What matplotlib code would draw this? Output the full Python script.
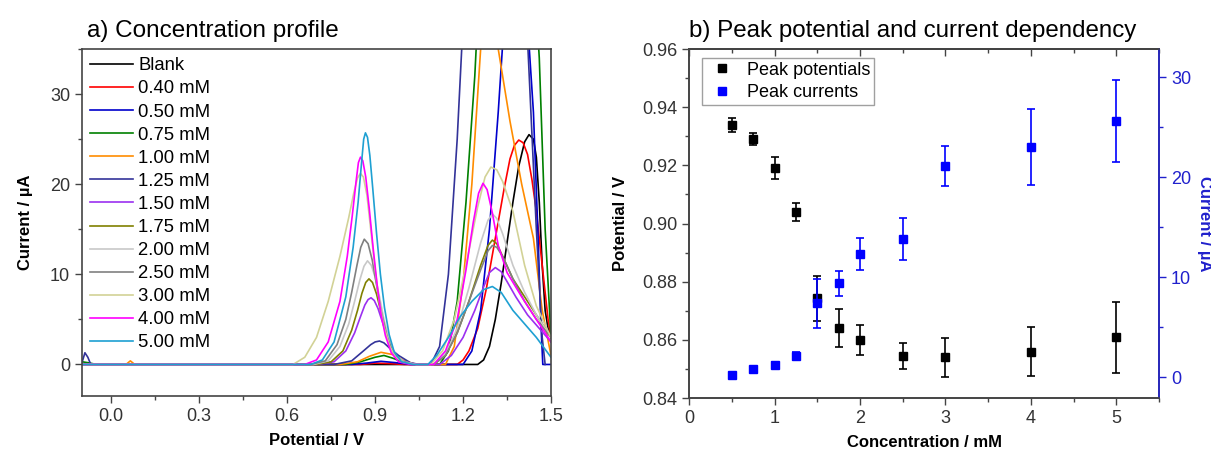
import numpy as np
import matplotlib
matplotlib.use("Agg")
import matplotlib.pyplot as plt
from matplotlib.ticker import MultipleLocator
from matplotlib.lines import Line2D

plt.rcParams['font.family'] = ['Liberation Sans', 'DejaVu Sans']

# ---- panel a: voltammograms (potential V, current uA) ----
labels = ["Blank", "0.40 mM", "0.50 mM", "0.75 mM", "1.00 mM", "1.25 mM", "1.50 mM",
          "1.75 mM", "2.00 mM", "2.50 mM", "3.00 mM", "4.00 mM", "5.00 mM"]
colors = ["#000000", "#FF0000", "#0000CC", "#008000", "#FF8C00", "#333399", "#9B30F0",
          "#808000", "#C8C8C8", "#808080", "#D2D296", "#FF00FF", "#1EA0D2"]

blank = [(-0.1, 0), (1.25, 0), (1.27, 0.5), (1.29, 2), (1.31, 5), (1.33, 9), (1.35, 13.5),
         (1.37, 18), (1.39, 22), (1.41, 24.7), (1.425, 25.5), (1.44, 25), (1.45, 23),
         (1.46, 18), (1.47, 11), (1.48, 6), (1.49, 4), (1.5, 3)]
c040 = [(-0.1, 0), (0.85, 0), (0.9, 0.15), (0.95, 0.1), (1.0, 0), (1.18, 0), (1.2, 0.5),
        (1.22, 1.5), (1.25, 4), (1.28, 8.5), (1.31, 14), (1.34, 19.5), (1.36, 22.8),
        (1.375, 24.3), (1.39, 24.9), (1.405, 24.6), (1.42, 23.3), (1.435, 20.5), (1.45, 17),
        (1.47, 11), (1.49, 5), (1.5, 3)]
c050 = [(-0.1, 0), (0.82, 0), (0.87, 0.15), (0.92, 0.35), (0.97, 0.2), (1.02, 0), (1.2, 0),
        (1.23, 1.5), (1.26, 6), (1.29, 15), (1.32, 28), (1.34, 38), (1.38, 60), (1.42, 38),
        (1.44, 28), (1.455, 15), (1.465, 5), (1.472, 0), (1.5, 0)]
c075 = [(-0.1, 0.3), (-0.08, 0.2), (-0.05, 0), (0.8, 0), (0.85, 0.3), (0.9, 0.8), (0.93, 1.0),
        (0.96, 0.7), (1.0, 0.2), (1.04, 0), (1.12, 0), (1.15, 1.5), (1.18, 7), (1.21, 18),
        (1.24, 32), (1.26, 45), (1.35, 70), (1.44, 45), (1.46, 34), (1.48, 15), (1.5, 3)]
c100 = [(-0.1, 0), (0.05, 0), (0.065, 0.4), (0.08, 0), (0.78, 0), (0.84, 0.3), (0.88, 0.9),
        (0.92, 1.35), (0.96, 1.1), (1.0, 0.4), (1.04, 0), (1.14, 0), (1.17, 2), (1.2, 9),
        (1.23, 20), (1.26, 35), (1.29, 45), (1.32, 35), (1.36, 27), (1.4, 20), (1.44, 14),
        (1.47, 6), (1.5, 1)]
c125 = [(-0.1, 0.2), (-0.09, 1.3), (-0.08, 0.8), (-0.07, 0), (0.76, 0), (0.82, 0.4),
        (0.86, 1.5), (0.885, 2.2), (0.9, 2.5), (0.915, 2.6), (0.93, 2.4), (0.95, 1.8),
        (0.98, 1), (1.02, 0.2), (1.05, 0), (1.09, 0), (1.12, 2), (1.15, 10), (1.18, 25),
        (1.2, 38), (1.3, 80), (1.4, 50), (1.42, 36), (1.45, 15), (1.47, 3), (1.48, 0)]
c150 = [(-0.1, 0), (0.7, 0), (0.76, 0.3), (0.8, 1.5), (0.83, 3.5), (0.85, 5.3), (0.865, 6.6),
        (0.876, 7.2), (0.886, 7.4), (0.897, 7.1), (0.91, 6.2), (0.925, 4.7), (0.94, 3.2),
        (0.96, 1.6), (0.98, 0.7), (1.0, 0.3), (1.04, 0), (1.12, 0), (1.16, 1), (1.2, 3),
        (1.24, 6), (1.27, 8.6), (1.29, 10.2), (1.31, 10.75), (1.33, 10.3), (1.35, 9.2),
        (1.38, 7.5), (1.42, 5.5), (1.46, 4), (1.5, 2.5)]
c175 = [(-0.1, 0), (0.7, 0), (0.75, 0.3), (0.79, 1.5), (0.82, 3.8), (0.84, 6), (0.855, 7.9),
        (0.868, 9.1), (0.879, 9.5), (0.891, 9.1), (0.905, 7.8), (0.92, 5.8), (0.94, 3.3),
        (0.96, 1.6), (0.98, 0.6), (1.0, 0.2), (1.04, 0), (1.1, 0), (1.14, 1), (1.18, 3.5),
        (1.22, 7), (1.26, 11), (1.285, 13.2), (1.3, 13.8), (1.315, 13.4), (1.335, 12),
        (1.37, 9.5), (1.41, 7.5), (1.45, 5.5), (1.5, 3)]
c200 = [(-0.1, 0), (0.69, 0), (0.74, 0.4), (0.78, 2), (0.81, 4.5), (0.83, 7), (0.848, 9.4),
        (0.862, 10.9), (0.874, 11.5), (0.887, 11), (0.9, 9.7), (0.915, 7.5), (0.93, 5),
        (0.95, 2.5), (0.97, 1), (1.0, 0.3), (1.04, 0), (1.1, 0), (1.14, 1.2), (1.18, 4),
        (1.22, 8.5), (1.26, 13.5), (1.285, 16), (1.3, 16.7), (1.315, 16.2), (1.335, 14.5),
        (1.37, 11), (1.41, 8), (1.45, 5.5), (1.5, 3)]
c250 = [(-0.1, 0), (0.68, 0), (0.73, 0.4), (0.77, 2.2), (0.8, 5), (0.82, 8), (0.838, 11),
        (0.851, 13), (0.863, 13.9), (0.876, 13.4), (0.89, 11.6), (0.905, 8.8), (0.92, 6),
        (0.94, 3.2), (0.96, 1.4), (0.99, 0.4), (1.03, 0), (1.1, 0), (1.14, 1), (1.18, 3.5),
        (1.22, 7), (1.26, 10.5), (1.285, 12.6), (1.3, 13.2), (1.315, 13), (1.335, 12),
        (1.37, 9.5), (1.41, 7), (1.45, 5), (1.5, 3)]
c300 = [(-0.1, 0), (0.62, 0), (0.66, 0.8), (0.7, 3), (0.74, 7), (0.78, 12), (0.81, 16.3),
        (0.827, 19), (0.84, 20.7), (0.85, 21.2), (0.86, 20.8), (0.872, 18.8), (0.885, 15),
        (0.9, 10.5), (0.915, 6.8), (0.93, 4.2), (0.95, 2), (0.97, 0.8), (1.0, 0.2),
        (1.04, 0), (1.09, 0), (1.13, 1.5), (1.17, 5), (1.21, 11), (1.25, 17.5), (1.275, 20.8),
        (1.295, 21.9), (1.315, 21.6), (1.335, 20.3), (1.37, 17), (1.41, 11), (1.45, 6.5),
        (1.5, 3)]
c400 = [(-0.1, 0), (0.66, 0), (0.7, 0.5), (0.74, 2.5), (0.78, 7), (0.805, 12), (0.822, 16.5),
        (0.835, 20.3), (0.843, 22.4), (0.85, 23), (0.858, 22.6), (0.868, 20.8), (0.88, 17.3),
        (0.893, 13), (0.907, 8.8), (0.92, 5.6), (0.935, 3.2), (0.955, 1.3), (0.98, 0.3),
        (1.02, 0), (1.1, 0), (1.14, 1.5), (1.18, 5), (1.21, 10.5), (1.235, 15.8),
        (1.253, 19), (1.268, 20.1), (1.282, 19.4), (1.3, 16.8), (1.32, 13.2), (1.35, 10.2),
        (1.4, 7.5), (1.45, 5), (1.5, 2.5)]
c500 = [(-0.1, 0), (0.68, 0), (0.72, 0.5), (0.76, 2.5), (0.8, 7.5), (0.825, 13), (0.842, 18),
        (0.854, 22.5), (0.861, 25), (0.867, 25.7), (0.874, 25.2), (0.882, 23.2), (0.892, 19.5),
        (0.905, 14.5), (0.918, 10), (0.932, 6.3), (0.948, 3.3), (0.965, 1.4), (0.99, 0.3),
        (1.03, 0), (1.08, 0), (1.11, 1), (1.15, 3), (1.19, 5.3), (1.23, 7), (1.27, 8.3),
        (1.3, 8.65), (1.33, 8), (1.37, 6), (1.41, 4.5), (1.45, 3), (1.5, 0.8)]
curves = [blank, c040, c050, c075, c100, c125, c150, c175, c200, c250, c300, c400, c500]

# ---- panel b: peak potentials and currents ----
conc = [0.5, 0.75, 1.0, 1.25, 1.5, 1.75, 2.0, 2.5, 3.0, 4.0, 5.0]
pot = [0.9339, 0.929, 0.919, 0.904, 0.8743, 0.8641, 0.8599, 0.8544, 0.854, 0.8559, 0.8609]
pot_err = [0.0025, 0.002, 0.0038, 0.003, 0.0078, 0.0066, 0.0051, 0.0045, 0.0068, 0.0085, 0.0122]
cur = [0.17, 0.77, 1.24, 2.14, 7.36, 9.36, 12.3, 13.78, 21.07, 23.0, 25.62]
cur_err = [0.1, 0.2, 0.3, 0.4, 2.43, 1.25, 1.6, 2.12, 2.0, 3.8, 4.1]

fig = plt.figure(figsize=(12.11, 4.53), dpi=100)
spine_c = "#444444"
tick_c = "#333333"
blue = "#0000FF"
axblue = "#2020CC"

ax = fig.add_axes([0.0677, 0.1258, 0.3873, 0.766])
for pts, lab, col in zip(curves, labels, colors):
    arr = np.array(pts)
    ax.plot(arr[:, 0], arr[:, 1], color=col, lw=1.2, label=lab)
ax.set_xlim(-0.1, 1.5)
ax.set_ylim(-3.5, 35)
ax.set_xticks([0.0, 0.3, 0.6, 0.9, 1.2, 1.5])
ax.set_xticklabels(["0.0", "0.3", "0.6", "0.9", "1.2", "1.5"])
ax.xaxis.set_minor_locator(MultipleLocator(0.15))
ax.yaxis.set_major_locator(MultipleLocator(10))
ax.yaxis.set_minor_locator(MultipleLocator(5))
ax.tick_params(which="both", direction="out", colors=spine_c, labelcolor=tick_c, labelsize=13)
ax.tick_params(which="major", length=5, width=1)
ax.tick_params(which="minor", length=3, width=1)
for s in ax.spines.values():
    s.set_color(spine_c)
    s.set_linewidth(1.2)
ax.set_xlabel("Potential / V", fontsize=12, fontweight="bold", labelpad=6)
ax.set_ylabel("Current / µA", fontsize=12, fontweight="bold", labelpad=12)
ax.set_title("a) Concentration profile", fontsize=17.5, loc="left", x=0.01, pad=9)
ax.legend(loc="upper left", frameon=False, fontsize=13.3, handlelength=2.3,
          handletextpad=0.3, labelspacing=0.33, borderaxespad=0.05)

# panel b
bx = fig.add_axes([0.569, 0.1214, 0.3881, 0.7704])
bx2 = bx.twinx()
bx.errorbar(conc, pot, yerr=pot_err, fmt="s", color="black", ms=6, capsize=3,
            elinewidth=1.2, capthick=1.2, zorder=3)
bx2.errorbar(conc, cur, yerr=cur_err, fmt="s", color=blue, ms=6, capsize=3,
             elinewidth=1.2, capthick=1.2, zorder=3)
bx.set_xlim(0, 5.5)
bx.set_ylim(0.84, 0.96)
bx2.set_ylim(-2.1, 32.8)
bx.xaxis.set_major_locator(MultipleLocator(1))
bx.xaxis.set_minor_locator(MultipleLocator(0.5))
bx.yaxis.set_major_locator(MultipleLocator(0.02))
bx.yaxis.set_minor_locator(MultipleLocator(0.01))
bx.yaxis.set_major_formatter(plt.FormatStrFormatter("%.2f"))
bx2.yaxis.set_major_locator(MultipleLocator(10))
bx2.yaxis.set_minor_locator(MultipleLocator(5))
bx.tick_params(which="both", direction="out", colors=spine_c, labelcolor=tick_c, labelsize=13)
bx.tick_params(which="major", length=5, width=1)
bx.tick_params(which="minor", length=3, width=1)
bx2.tick_params(which="both", direction="out", colors=axblue, labelcolor=axblue, labelsize=13)
bx2.tick_params(which="major", length=5, width=1)
bx2.tick_params(which="minor", length=3, width=1)
# inward ticks along the top edge
top = bx.secondary_xaxis("top")
top.xaxis.set_major_locator(MultipleLocator(1))
top.xaxis.set_minor_locator(MultipleLocator(0.5))
top.tick_params(which="both", direction="in", colors=spine_c, labeltop=False)
top.tick_params(which="major", length=5, width=1)
top.tick_params(which="minor", length=3, width=1)
top.spines["top"].set_color(spine_c)
top.spines["top"].set_linewidth(1.2)
for s in bx.spines.values():
    s.set_color(spine_c)
    s.set_linewidth(1.2)
for name, s in bx2.spines.items():
    s.set_linewidth(1.2)
    s.set_color(axblue if name == "right" else spine_c)
bx.set_xlabel("Concentration / mM", fontsize=12, fontweight="bold", labelpad=6)
bx.set_ylabel("Potential / V", fontsize=12, fontweight="bold", labelpad=10)
bx2.set_ylabel("Current / µA", fontsize=12, fontweight="bold", color=axblue,
               rotation=270, va="bottom", labelpad=4)
bx.set_title("b) Peak potential and current dependency", fontsize=17.4, loc="left", pad=9)
handles = [Line2D([], [], ls="none", marker="s", ms=6, color="black"),
           Line2D([], [], ls="none", marker="s", ms=6, color=blue)]
leg = bx2.legend(handles, ["Peak potentials", "Peak currents"], loc="upper left",
                 fontsize=13, fancybox=False, edgecolor="#888888", handlelength=1.8,
                 handletextpad=0.5, borderpad=0.2, labelspacing=0.3, borderaxespad=0,
                 bbox_to_anchor=(0.028, 0.974))
leg.get_frame().set_linewidth(1.0)

fig.savefig("out.png", dpi=100)
